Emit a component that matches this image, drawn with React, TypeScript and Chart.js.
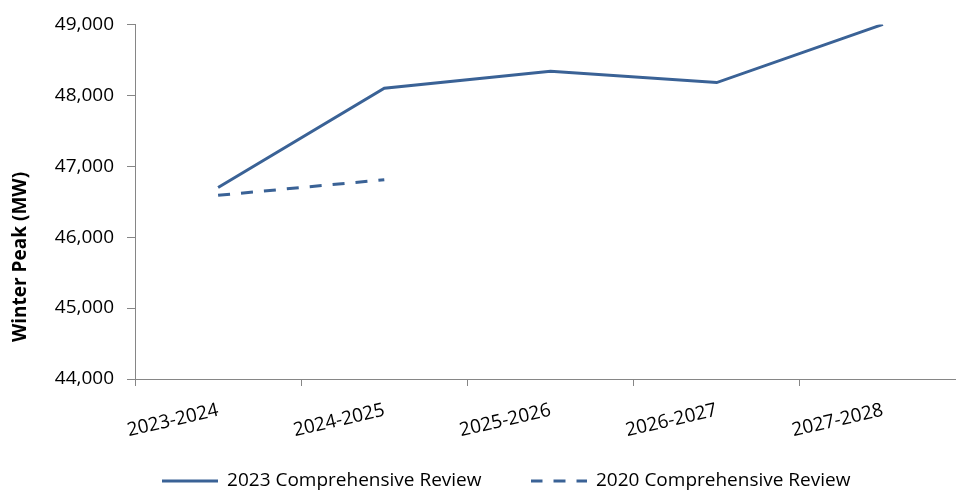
import React, { useEffect, useRef } from 'react';
import { Chart, registerables } from 'chart.js';

Chart.register(...registerables);

const categories = ['2023-2024', '2024-2025', '2025-2026', '2026-2027', '2027-2028'];
const review2023 = [46700, 48100, 48340, 48180, 49000];
const review2020: (number | null)[] = [46590, 46810, null, null, null];
const seriesLabels = ['2023 Comprehensive Review', '2020 Comprehensive Review'];
const yMin = 44000;
const yMax = 49000;
const yStep = 1000;
const yTitle = 'Winter Peak (MW)';

const LINE_COLOR = '#3A6296';
const AXIS_COLOR = '#868686';
const FONT = 'Open Sans';
const PAD_LEFT = 46;
const LEGEND_LINE_W = 56;
const DASH = [12, 11];
const X_AXIS_H = 63;
const LEGEND_SHIFT = 19.5;

function makeLegendLine(dash: number[]): HTMLCanvasElement {
  const c = document.createElement('canvas');
  c.width = LEGEND_LINE_W;
  c.height = 4;
  const ctx = c.getContext('2d')!;
  ctx.strokeStyle = LINE_COLOR;
  ctx.lineWidth = 3;
  ctx.setLineDash(dash);
  ctx.beginPath();
  ctx.moveTo(0, 2);
  ctx.lineTo(LEGEND_LINE_W, 2);
  ctx.stroke();
  return c;
}

const yTitlePlugin = {
  id: 'yTitleCustom',
  afterDraw(chart: any) {
    const ctx = chart.ctx;
    ctx.save();
    ctx.translate(21, 257);
    ctx.rotate(-Math.PI / 2);
    ctx.font = `bold 19px "${FONT}"`;
    ctx.fillStyle = '#000000';
    ctx.textAlign = 'center';
    ctx.textBaseline = 'middle';
    ctx.fillText(yTitle, 0, 0);
    ctx.restore();
  },
};

const legendShiftPlugin = {
  id: 'legendShift',
  afterLayout(chart: any) {
    const lg = chart.legend;
    if (lg) {
      lg.top -= LEGEND_SHIFT;
      lg.bottom -= LEGEND_SHIFT;
    }
  },
};

export default function App() {
  const canvasRef = useRef<HTMLCanvasElement | null>(null);

  useEffect(() => {
    if (!canvasRef.current) return;
    const font = { family: FONT, size: 19 };
    const solidSample = makeLegendLine([]);
    const dashSample = makeLegendLine(DASH);
    const chart = new Chart(canvasRef.current, {
      type: 'line',
      data: {
        labels: categories,
        datasets: [
          {
            label: seriesLabels[0],
            data: review2023,
            borderColor: LINE_COLOR,
            backgroundColor: LINE_COLOR,
            borderWidth: 3,
            pointRadius: 0,
            pointStyle: solidSample,
            tension: 0,
            fill: false,
          },
          {
            label: seriesLabels[1],
            data: review2020,
            borderColor: LINE_COLOR,
            backgroundColor: LINE_COLOR,
            borderWidth: 3,
            borderDash: DASH,
            pointRadius: 0,
            pointStyle: dashSample,
            tension: 0,
            fill: false,
          },
        ],
      },
      options: {
        responsive: false,
        animation: false,
        events: [],
        layout: { padding: { top: 19, left: PAD_LEFT, right: 14, bottom: -28 } },
        scales: {
          x: {
            type: 'category',
            offset: true,
            grid: {
              display: true,
              drawOnChartArea: false,
              drawTicks: true,
              tickLength: 7,
              color: AXIS_COLOR,
              offset: true,
            },
            border: { display: true, color: AXIS_COLOR, width: 1 },
            ticks: {
              autoSkip: false,
              minRotation: 13,
              maxRotation: 13,
              padding: 13,
              color: '#000000',
              font,
            },
            afterFit: (s: any) => {
              s.height = X_AXIS_H;
            },
          },
          y: {
            min: yMin,
            max: yMax,
            grid: {
              display: true,
              drawOnChartArea: false,
              drawTicks: true,
              tickLength: 8,
              color: AXIS_COLOR,
            },
            border: { display: true, color: AXIS_COLOR, width: 1 },
            ticks: {
              stepSize: yStep,
              padding: 13,
              color: '#000000',
              font,
              callback: (v: any) => Number(v).toLocaleString('en-US'),
            },
            afterFit: (s: any) => {
              s.width = 135 - PAD_LEFT;
            },
          },
        },
        plugins: {
          legend: {
            display: true,
            position: 'bottom',
            labels: {
              usePointStyle: true,
              pointStyleWidth: LEGEND_LINE_W,
              padding: 49,
              color: '#000000',
              font,
            },
          },
          tooltip: { enabled: false },
          title: { display: false },
        },
      },
      plugins: [yTitlePlugin, legendShiftPlugin],
    } as any);
    return () => chart.destroy();
  }, []);

  return (
    <div
      style={{
        position: 'fixed',
        left: 0,
        top: 0,
        width: 956,
        height: 492,
        overflow: 'hidden',
        background: '#ffffff',
      }}
    >
      <canvas ref={canvasRef} width={980} height={492} style={{ width: 980, height: 492, display: 'block' }} />
    </div>
  );
}
